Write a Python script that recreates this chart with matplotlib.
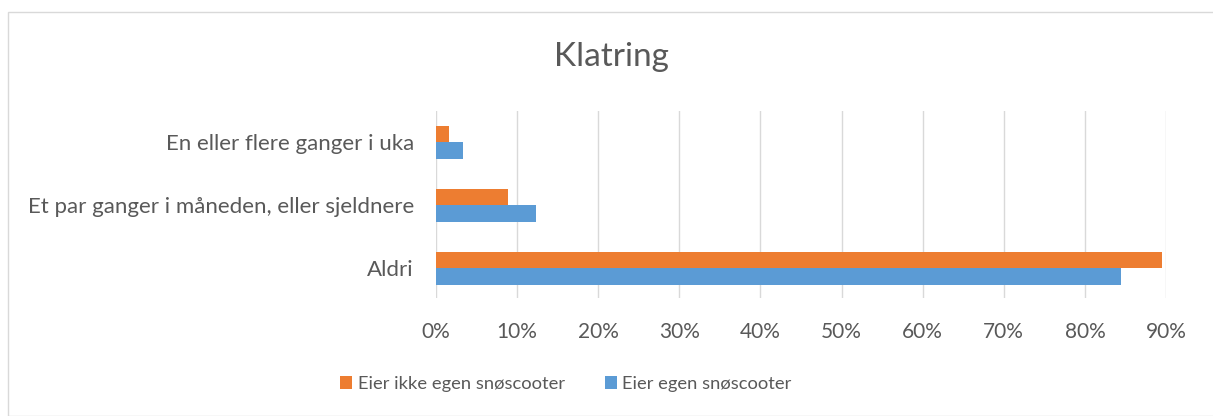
import matplotlib
matplotlib.use('Agg')

import matplotlib.pyplot as plt
from matplotlib.patches import Rectangle
from matplotlib.ticker import PercentFormatter

# ---- data ----
kategorier = ["Aldri", "Et par ganger i måneden, eller sjeldnere", "En eller flere ganger i uka"]
eier_ikke = [0.895, 0.089, 0.016]
eier = [0.845, 0.123, 0.033]
serie_navn = ["Eier ikke egen snøscooter", "Eier egen snøscooter"]
x_ticks = [0, 0.1, 0.2, 0.3, 0.4, 0.5, 0.6, 0.7, 0.8, 0.9]

ORANGE = "#ED7D31"
BLUE = "#5B9BD5"
TEXT = "#595959"
GRID = "#D9D9D9"

plt.rcParams['font.family'] = ['Lato', 'DejaVu Sans']

fig = plt.figure(figsize=(12.13, 4.16), dpi=100)
ax = fig.add_axes([436 / 1213, 1 - 298 / 416, (1166 - 436) / 1213, (298 - 111) / 416])

# chart border
fig.patches.append(Rectangle((8 / 1213, 0), 1, 1 - 12 / 416, transform=fig.transFigure,
                             fill=False, edgecolor="#D9D9D9", linewidth=1.0))

h = 0.258
y = list(range(len(kategorier)))
ax.barh([v + h / 2 for v in y], eier_ikke, height=h, color=ORANGE, label=serie_navn[0], zorder=3)
ax.barh([v - h / 2 for v in y], eier, height=h, color=BLUE, label=serie_navn[1], zorder=3)

ax.set_xlim(0, 0.9)
ax.set_ylim(-0.47, 2.5)
ax.set_xticks(x_ticks)
ax.xaxis.set_major_formatter(PercentFormatter(1.0, decimals=0))
ax.set_yticks(y)
ax.set_yticklabels(kategorier)
ax.tick_params(length=0, colors=TEXT)
ax.tick_params(axis='x', pad=17, labelsize=15)
ax.tick_params(axis='y', pad=16, labelsize=16)

ax.grid(axis='x', color=GRID, linewidth=1.0, zorder=0)
for s in ["top", "right", "bottom", "left"]:
    ax.spines[s].set_visible(False)

fig.text(611 / 1213, 1 - 57 / 416, "Klatring", ha='center', va='center', fontsize=24, color=TEXT)

handles, labels = ax.get_legend_handles_labels()
fig.legend(handles, labels, loc='center', bbox_to_anchor=(566 / 1213, 1 - 384 / 416), ncol=2,
           frameon=False, fontsize=13.2, labelcolor=TEXT, handlelength=0.65, handleheight=0.65,
           handletextpad=0.3, columnspacing=2.2)

fig.savefig("out.png", dpi=100)
